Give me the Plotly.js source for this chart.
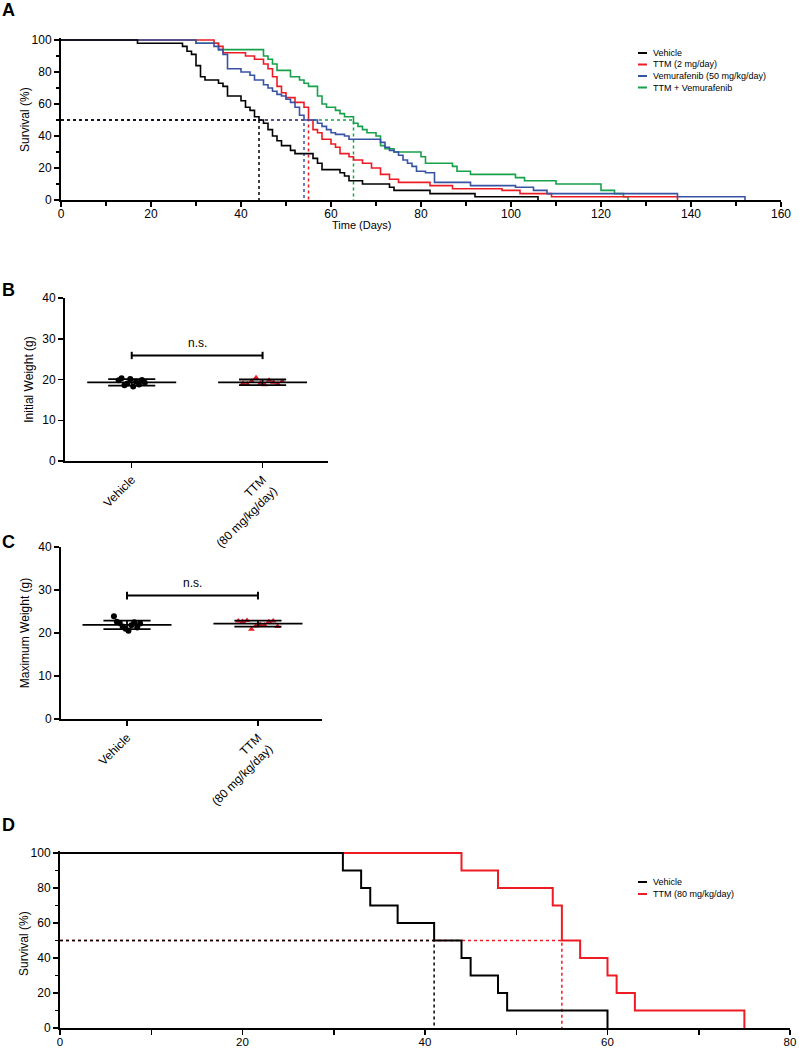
<!DOCTYPE html>
<html><head><meta charset="utf-8">
<script src="https://cdn.plot.ly/plotly-3.0.1.min.js"></script>
<style>html,body{margin:0;padding:0;background:#fff}#chart{width:799px;height:1050px}</style>
</head><body><div id="chart"></div>
<script>
// ---------- Panel A: Kaplan-Meier survival (days, % survival) ----------
const aVehicleDays = [0,17,27,28,29,30,31,32,35,36,37,40,41,42,43,44,45,46,47,48,49,51,52,56,57,58,62,63,64,67,73,74,82,92,106];
const aVehicleSurv = [100,98,96,93,91,84,77,75,73,71,65,62,58,56,52,50,48,44,40,37,34,31,29,26,23,19,17,15,12,10,8,6,4,2,0];
const aTTMDays = [0,34,35,36,41,43,45,46,47,48,49,50,52,54,55,56,57,58,60,61,62,64,65,67,69,71,73,75,82,87,98,102,109,137];
const aTTMSurv = [100,98,96,92,90,88,85,82,77,71,67,64,61,58,50,44,42,38,35,33,29,27,25,23,20,16,13,11,9,7,6,4,2,0];
const aVemDays = [0,30,34,35,36,37,40,42,43,45,46,47,48,49,50,51,52,53,54,57,58,59,60,61,63,64,71,72,73,74,75,76,77,78,79,81,83,91,101,105,108,137,152];
const aVemSurv = [100,98,96,94,91,82,80,78,75,72,70,68,66,65,63,61,58,53,50,48,46,44,42,41,40,38,36,33,31,30,28,25,23,21,18,17,11,9,8,6,4,2,0];
const aComboDays = [0,30,35,45,46,47,48,51,53,54,55,57,58,59,61,62,63,65,66,67,68,70,71,72,74,80,81,87,88,91,101,103,110,120,123,125,126];
const aComboSurv = [100,98,94,90,88,85,81,77,75,73,71,65,60,58,56,54,52,48,46,44,42,40,34,32,30,27,23,21,18,16,14,12,10,6,4,2,0];
const aNames = ['Vehicle','TTM (2 mg/day)','Vemurafenib (50 mg/kg/day)','TTM + Vemurafenib'];
const aMedians = [44,55,54,65];

// ---------- Panel B: initial weight (g) ----------
const bCategories = ['Vehicle','TTM<br>(80 mg/kg/day)'];
const bVehicle = [19.8,20.3,18.6,19.0,20.1,18.3,19.5,18.8,19.9,19.2];
const bTTM = [19.0,18.9,19.6,20.4,19.1,18.7,19.8,19.3,18.9,19.5];
const bMean = [19.3,19.3];
const bSD = [0.8,0.7];
const bBracket = 25.9;

// ---------- Panel C: maximum weight (g) ----------
const cVehicle = [23.9,22.6,22.3,21.5,21.0,20.5,21.8,22.5,21.3,22.2];
const cTTM = [22.8,22.7,22.9,20.9,21.6,22.0,21.8,22.6,22.8,21.5];
const cMean = [21.9,22.2];
const cSD = [1.0,0.7];
const cBracket = 28.7;

// ---------- Panel D: Kaplan-Meier survival ----------
const dVehicleDays = [0,31,33,34,37,41,44,45,48,49,60];
const dVehicleSurv = [100,90,80,70,60,50,40,30,20,10,0];
const dTTMDays = [0,44,48,54,55,57,60,61,63,75];
const dTTMSurv = [100,90,80,70,50,40,30,20,10,0];
const dNames = ['Vehicle','TTM (80 mg/kg/day)'];
const dMedians = [41,55];

// ---------- styling ----------
const F = 'Liberation Sans, Arial, sans-serif';
const BLACK='#000000', RED='#ed1c24', BLUE='#3953a4', GREEN='#16a14a';
const aColors=[BLACK,RED,BLUE,GREEN];
const dColors=[BLACK,RED];
const W=799,H=1050;
const px=x=>x/W, py=y=>1-y/H;

function ax(extra){
  return Object.assign({showgrid:false,zeroline:false,showline:true,linecolor:'#000',linewidth:2,
    ticks:'outside',ticklen:5,tickwidth:1.5,tickcolor:'#000',
    tickfont:{family:F,size:12,color:'#000'},fixedrange:true},extra);
}

const traces=[];
[3,1,2,0].forEach(i=>{
  traces.push({x:[0,aMedians[i],aMedians[i]],y:[50,50,0],xaxis:'x',yaxis:'y',mode:'lines',
    line:{color:aColors[i],width:1.5,dash:'dot'},hoverinfo:'skip'});
});
const aDays=[aVehicleDays,aTTMDays,aVemDays,aComboDays];
const aSurv=[aVehicleSurv,aTTMSurv,aVemSurv,aComboSurv];
[3,1,2,0].forEach(i=>{
  traces.push({x:aDays[i],y:aSurv[i],name:aNames[i],xaxis:'x',yaxis:'y',mode:'lines',
    line:{color:aColors[i],width:1.6,shape:'hv'}});
});

function spread(n,center,half){return Array.from({length:n},(_,i)=>center+(n>1?-half+2*half*i/(n-1):0));}
function dotPanel(xa,ya,veh,ttm,mean,sd,bracket){
  traces.push({x:spread(veh.length,0,0.1),y:veh,xaxis:xa,yaxis:ya,mode:'markers',
    marker:{symbol:'circle',size:6,color:BLACK}});
  traces.push({x:spread(ttm.length,1,0.15),y:ttm,xaxis:xa,yaxis:ya,mode:'markers',
    marker:{symbol:'triangle-up',size:6,color:RED}});
  for(let i=0;i<2;i++){
    const m=mean[i], s=sd[i];
    traces.push({x:[i-0.34,i+0.34,null,i-0.18,i+0.18,null,i-0.18,i+0.18,null,i,i],
      y:[m,m,null,m+s,m+s,null,m-s,m-s,null,m-s,m+s],xaxis:xa,yaxis:ya,mode:'lines',
      line:{color:BLACK,width:1.8}});
  }
  traces.push({x:[0,1,null,0,0,null,1,1],y:[bracket,bracket,null,bracket-0.9,bracket+0.9,null,bracket-0.9,bracket+0.9],
    xaxis:xa,yaxis:ya,mode:'lines',line:{color:BLACK,width:2}});
}
dotPanel('x2','y2',bVehicle,bTTM,bMean,bSD,bBracket);
dotPanel('x3','y3',cVehicle,cTTM,cMean,cSD,cBracket);

const dDays=[dVehicleDays,dTTMDays], dSurv=[dVehicleSurv,dTTMSurv];
[1,0].forEach(i=>{
  traces.push({x:[0,dMedians[i],dMedians[i]],y:[50,50,0],xaxis:'x4',yaxis:'y4',mode:'lines',
    line:{color:dColors[i],width:1.5,dash:'dot'}});
});
[1,0].forEach(i=>{
  traces.push({x:dDays[i],y:dSurv[i],name:dNames[i],xaxis:'x4',yaxis:'y4',mode:'lines',
    line:{color:dColors[i],width:2,shape:'hv'}});
});

const ytitle=(t)=>({text:t,font:{family:F,size:12,color:'#000'},standoff:6});
const minorY={dtick:10,ticks:'outside',ticklen:3,tickcolor:'#000',tickwidth:1.5};
const layout={
  width:W,height:H,margin:{l:0,r:0,t:0,b:0},paper_bgcolor:'#fff',plot_bgcolor:'rgba(0,0,0,0)',
  showlegend:false,
  xaxis:ax({domain:[px(61),px(781)],range:[0,160],anchor:'y',tickvals:[0,20,40,60,80,100,120,140,160],
    ticklabelstandoff:-3,minor:{dtick:10,ticks:'outside',ticklen:4,tickcolor:'#000',tickwidth:1.5}}),
  yaxis:ax({domain:[py(200),py(38.4)],range:[0,101],anchor:'x',tickvals:[0,20,40,60,80,100],minor:minorY}),
  xaxis2:ax({domain:[px(65),px(328)],range:[-0.51,1.5],anchor:'y2',tickvals:[0,1],ticktext:bCategories,tickangle:-45}),
  yaxis2:ax({domain:[py(461),py(298)],range:[0,40],anchor:'x2',dtick:10,title:ytitle('Initial Weight (g)')}),
  xaxis3:ax({domain:[px(61),px(322)],range:[-0.504,1.489],anchor:'y3',tickvals:[0,1],ticktext:bCategories,tickangle:-45}),
  yaxis3:ax({domain:[py(719),py(547)],range:[0,40],anchor:'x3',dtick:10,title:ytitle('Maximum Weight (g)')}),
  xaxis4:ax({domain:[px(60),px(790)],range:[0,80],anchor:'y4',tickvals:[0,20,40,60,80],ticklabelstandoff:-3,
    tickfont:{family:F,size:11.5,color:'#000'},
    minor:{dtick:10,ticks:'outside',ticklen:5,tickcolor:'#000',tickwidth:1.5}}),
  yaxis4:ax({domain:[py(1028),py(851.3)],range:[0,101],anchor:'x4',tickvals:[0,20,40,60,80,100],minor:minorY}),
  annotations:[],shapes:[]
};
const ann=layout.annotations, shp=layout.shapes;
[['A',10],['B',290],['C',542],['D',825]].forEach(([t,y])=>{
  ann.push({text:'<b>'+t+'</b>',xref:'paper',yref:'paper',x:0,y:py(y),xanchor:'left',yanchor:'middle',
    showarrow:false,font:{family:F,size:18,color:'#000'}});
});
// axis titles placed as in the reference
ann.push({text:'Time (Days)',xref:'paper',yref:'paper',x:px(361),y:py(225),xanchor:'center',yanchor:'middle',
  showarrow:false,font:{family:F,size:11,color:'#000'}});
ann.push({text:'Survival (%)',xref:'paper',yref:'paper',x:px(25),y:py(120),xanchor:'center',yanchor:'middle',
  textangle:-90,showarrow:false,font:{family:F,size:12,color:'#000'}});
ann.push({text:'Survival (%)',xref:'paper',yref:'paper',x:px(24),y:py(944),xanchor:'center',yanchor:'middle',
  textangle:-90,showarrow:false,font:{family:F,size:12,color:'#000'}});
ann.push({text:'n.s.',xref:'x2',yref:'y2',x:0.5,y:bBracket+0.8,xanchor:'center',yanchor:'bottom',showarrow:false,font:{family:F,size:12,color:'#000'}});
ann.push({text:'n.s.',xref:'x3',yref:'y3',x:0.5,y:cBracket+0.8,xanchor:'center',yanchor:'bottom',showarrow:false,font:{family:F,size:12,color:'#000'}});
function legend(names,colors,ys){
  names.forEach((n,i)=>{
    shp.push({type:'line',xref:'paper',yref:'paper',x0:px(638),x1:px(647),y0:py(ys[i]),y1:py(ys[i]),line:{color:colors[i],width:2}});
    ann.push({text:n,xref:'paper',yref:'paper',x:px(651),y:py(ys[i]),xanchor:'left',yanchor:'middle',showarrow:false,
      font:{family:F,size:9,color:'#000'}});
  });
}
legend(aNames,aColors,[53,64.5,76,87.5]);
legend(dNames,dColors,[882,894]);

Plotly.newPlot('chart',traces,layout,{displayModeBar:false,staticPlot:true});
</script></body></html>
